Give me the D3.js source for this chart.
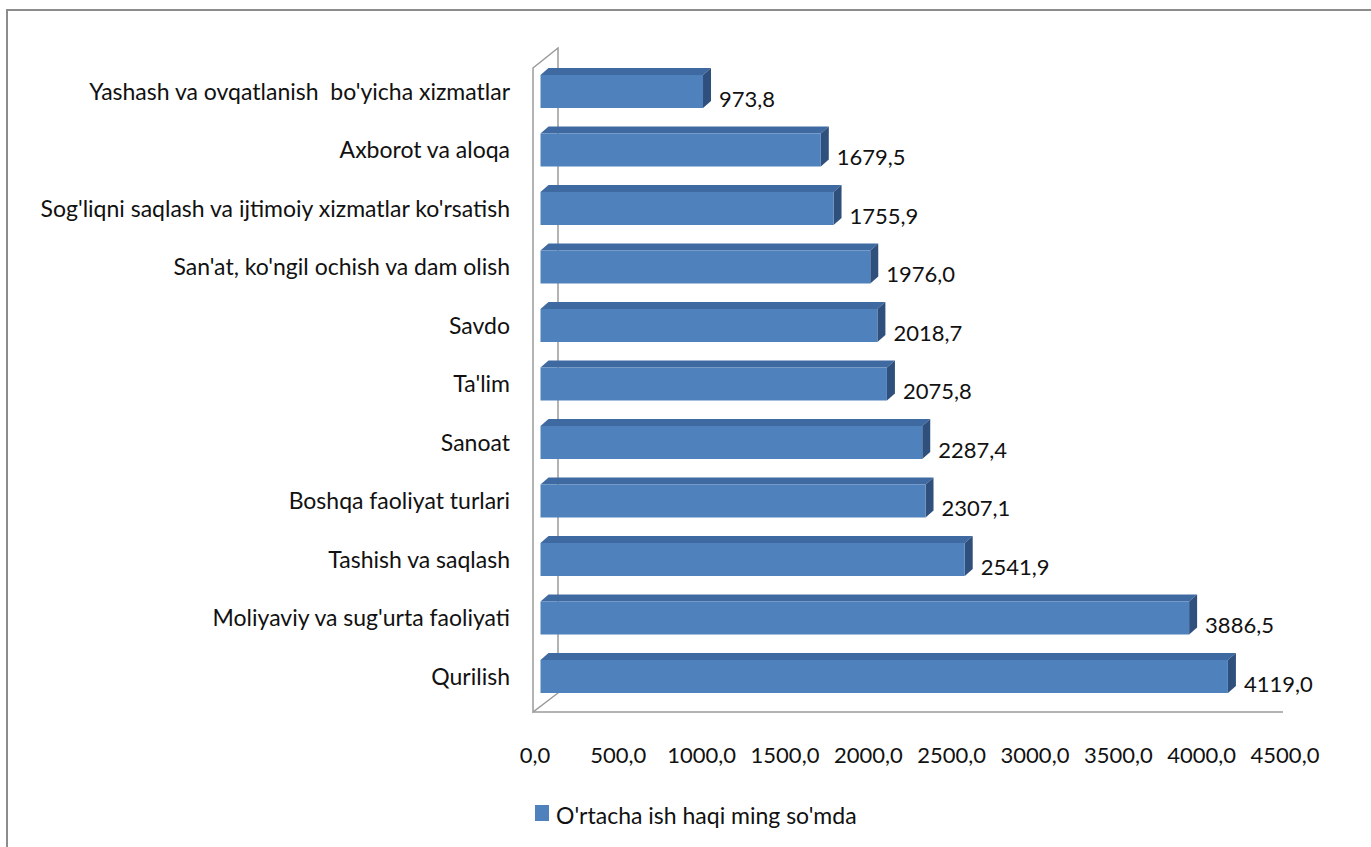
<!DOCTYPE html>
<html>
<head>
<meta charset="utf-8">
<script src="https://cdn.jsdelivr.net/npm/d3@7"></script>
<style>
  html, body { margin: 0; padding: 0; background: #fff; }
  svg { display: block; }
  text { font-family: Lato, "Open Sans", sans-serif; fill: #111; }
</style>
</head>
<body>
<svg id="chart" width="1371" height="847"></svg>
<script>
// ---- data ----
const categories = [
  "Yashash va ovqatlanish  bo'yicha xizmatlar",
  "Axborot va aloqa",
  "Sog'liqni saqlash va ijtimoiy xizmatlar ko'rsatish",
  "San'at, ko'ngil ochish va dam olish",
  "Savdo",
  "Ta'lim",
  "Sanoat",
  "Boshqa faoliyat turlari",
  "Tashish va saqlash",
  "Moliyaviy va sug'urta faoliyati",
  "Qurilish"
];
const values = [973.8, 1679.5, 1755.9, 1976.0, 2018.7, 2075.8, 2287.4, 2307.1, 2541.9, 3886.5, 4119.0];
const valueLabels = ["973,8", "1679,5", "1755,9", "1976,0", "2018,7", "2075,8", "2287,4", "2307,1", "2541,9", "3886,5", "4119,0"];
const tickValues = [0, 500, 1000, 1500, 2000, 2500, 3000, 3500, 4000, 4500];
const tickLabels = ["0,0", "500,0", "1000,0", "1500,0", "2000,0", "2500,0", "3000,0", "3500,0", "4000,0", "4500,0"];
const seriesName = "O'rtacha ish haqi ming so'mda";

// ---- layout ----
const svg = d3.select("#chart");
const fontSize = 22;
const catFontSize = 23;

// frame
svg.append("rect")
  .attr("x", 7).attr("y", 10).attr("width", 1400).attr("height", 900)
  .attr("fill", "none").attr("stroke", "#8c8c8c").attr("stroke-width", 2);

// 3D geometry
const floorY = 712, wallX = 533, wallTop = 68;
const depth = { dx: 25, dy: -20 };
const barDepth = { dx: 8, dy: -7 };

// scales
const xFloor = d3.scaleLinear().domain([0, 4500]).range([533, 1283]);   // floor front edge
const xBar = d3.scaleLinear().domain([0, 4500]).range([540.5, 1291.5]); // bar front plane
const y = d3.scalePoint().domain(categories).range([91.5, 676.5]);
const barH = 33;

// left wall
svg.append("polygon")
  .attr("points", [
    [wallX, wallTop], [wallX + depth.dx, wallTop + depth.dy],
    [wallX + depth.dx, floorY + depth.dy + 1], [wallX, floorY]
  ].map(p => p.join(",")).join(" "))
  .attr("fill", "#fff").attr("stroke", "#9a9a9a").attr("stroke-width", 1.5);

// floor front edge
svg.append("line")
  .attr("x1", xFloor(0)).attr("x2", xFloor(4500))
  .attr("y1", floorY).attr("y2", floorY)
  .attr("stroke", "#9a9a9a").attr("stroke-width", 1.5);

// bars
const gBars = svg.append("g");
categories.forEach((c, i) => {
  const v = values[i];
  const x0 = xBar(0), x1 = xBar(v);
  const top = y(c) - barH / 2, bot = y(c) + barH / 2;
  const g = gBars.append("g");
  // top face
  g.append("polygon")
    .attr("points", [[x0, top], [x1, top], [x1 + barDepth.dx, top + barDepth.dy], [x0 + barDepth.dx, top + barDepth.dy]].map(p => p.join(",")).join(" "))
    .attr("fill", "#3f6aa1");
  // side face
  g.append("polygon")
    .attr("points", [[x1, top], [x1 + barDepth.dx, top + barDepth.dy], [x1 + barDepth.dx, bot + barDepth.dy], [x1, bot]].map(p => p.join(",")).join(" "))
    .attr("fill", "#2f4f7c");
  // front face
  g.append("rect")
    .attr("x", x0).attr("y", top).attr("width", x1 - x0).attr("height", barH)
    .attr("fill", "#4f81bd");
  // value label
  g.append("text")
    .attr("x", x1 + 16).attr("y", y(c) + 15)
    .attr("font-size", fontSize)
    .text(valueLabels[i]);
});

// category labels
svg.append("g").selectAll("text")
  .data(categories).join("text")
  .attr("x", 510).attr("y", d => y(d) + 8)
  .attr("text-anchor", "end")
  .attr("font-size", catFontSize)
  .attr("xml:space", "preserve")
  .text(d => d);

// x tick labels
svg.append("g").selectAll("text")
  .data(tickValues).join("text")
  .attr("x", (d) => xFloor(d) + 2)
  .attr("y", 763)
  .attr("text-anchor", "middle")
  .attr("font-size", fontSize)
  .text((d, i) => tickLabels[i]);

// legend
svg.append("rect")
  .attr("x", 535).attr("y", 805).attr("width", 14).attr("height", 16)
  .attr("fill", "#4f81bd");
svg.append("text")
  .attr("x", 556).attr("y", 824)
  .attr("font-size", catFontSize)
  .text(seriesName);
</script>
</body>
</html>
